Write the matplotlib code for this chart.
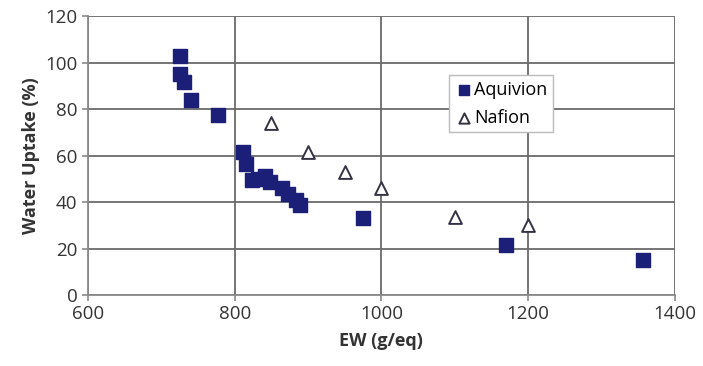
import matplotlib.pyplot as plt

# EW (g/eq) vs water uptake (%)
aquivion_ew = [726, 725, 731, 740, 778, 812, 816, 823, 832, 841, 848, 865, 873, 884, 889, 975, 1170, 1357]
aquivion_wu = [103, 95, 91.5, 84, 77.5, 61.5, 56.5, 49.5, 50, 51, 48.7, 46, 43.5, 41, 38.7, 33, 21.5, 15]
nafion_ew = [850, 900, 950, 1000, 1100, 1200]
nafion_wu = [74, 61.5, 53, 46, 33.5, 30]

plt.rcParams['font.family'] = ['Open Sans', 'DejaVu Sans']

fig = plt.figure(figsize=(7.03, 3.66), dpi=100)
ax = fig.add_axes([0.125, 0.194, 0.835, 0.762])

ax.scatter(aquivion_ew, aquivion_wu, marker='s', s=105, color='#1c1f78',
           edgecolor='#1c1f78', label='Aquivion', zorder=3)
ax.scatter(nafion_ew, nafion_wu, marker='^', s=85, facecolor='white',
           edgecolor='#333344', linewidth=1.4, label='Nafion', zorder=3)

ax.set_xlim(600, 1400)
ax.set_ylim(0, 120)
ax.set_xticks(range(600, 1401, 200))
ax.set_yticks(range(0, 121, 20))
ax.grid(True, color='#6a6a6a', linewidth=1.3)
ax.set_axisbelow(True)
for s in ['top', 'right']:
    ax.spines[s].set_visible(False)
for s in ['left', 'bottom']:
    ax.spines[s].set_color('#8a8a8a')
    ax.spines[s].set_linewidth(1.3)
ax.tick_params(colors='#8a8a8a', labelcolor='#333333', labelsize=13.5, length=4, width=1.2)

ax.set_xlabel('EW (g/eq)', fontsize=13, fontweight='bold', color='#333333', labelpad=6)
ax.set_ylabel('Water Uptake (%)', fontsize=13, fontweight='bold', color='#333333')

leg = ax.legend(loc='upper left', bbox_to_anchor=(0.6, 0.82), fontsize=13,
                handletextpad=0.1, handlelength=1.0, borderpad=0.3,
                labelspacing=0.55, fancybox=False, framealpha=1)
leg.get_frame().set_edgecolor('#bbbbbb')
leg.legend_handles[0].set_sizes([45])
leg.legend_handles[1].set_sizes([55])

fig.savefig('out.png', dpi=100)
